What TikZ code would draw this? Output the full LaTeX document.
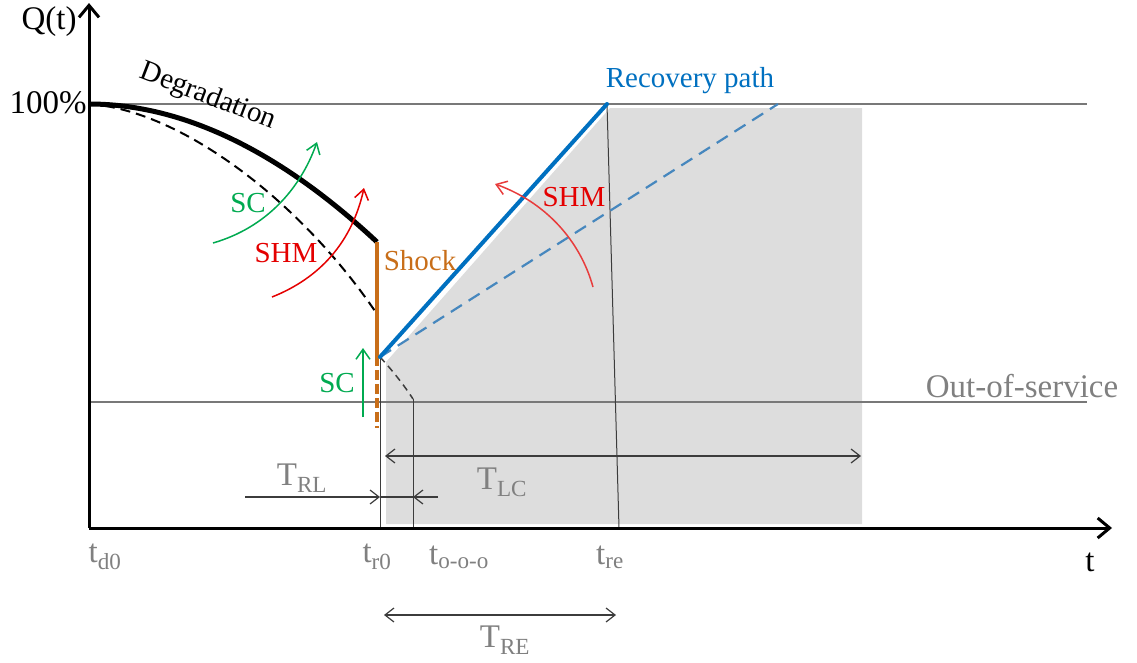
\documentclass[tikz,border=0pt]{standalone}
\usepackage{fontspec}
\setmainfont{Liberation Serif}
\usetikzlibrary{arrows.meta}
\definecolor{myblue}{RGB}{0,112,192}
\definecolor{dblue}{RGB}{70,135,190}
\definecolor{orng}{RGB}{200,110,25}
\definecolor{grn}{RGB}{0,170,80}
\definecolor{myred}{RGB}{228,0,0}
\definecolor{lred}{RGB}{232,60,60}
\definecolor{txtgray}{RGB}{128,128,128}
\definecolor{lngray}{RGB}{120,120,120}
\definecolor{dkgray}{RGB}{60,60,60}
\definecolor{areagray}{RGB}{221,221,221}
\begin{document}
\begin{tikzpicture}[x=1pt,y=-1pt,
  axis/.style={line width=3pt,-{Straight Barb[length=12pt,width=20pt,line width=3pt]}},
  thinarr/.style={line width=1.2pt,color=dkgray,-{Straight Barb[length=9pt,width=14pt,line width=1.2pt]}},
  thinline/.style={line width=1.2pt,color=dkgray},
  thinboth/.style={line width=1.2pt,color=dkgray,{Straight Barb[length=9pt,width=14pt,line width=1.2pt]}-{Straight Barb[length=9pt,width=14pt,line width=1.2pt]}},
  colarr/.style={line width=1.5pt,-{Straight Barb[length=10pt,width=14pt,line width=1.5pt]}},
  refline/.style={line width=1.3pt,color=lngray},
  vline/.style={line width=1pt,color=dkgray},
  big/.style={font=\fontsize{33}{38}\selectfont,inner sep=0pt},
  mid/.style={font=\fontsize{29}{34}\selectfont,inner sep=0pt},
]
\useasboundingbox (0,0) rectangle (1137,662);
% key coordinates
\coordinate (O) at (89,528);
\coordinate (Ytop) at (89,3);
\coordinate (Xend) at (1112,528);
\coordinate (P0) at (89,104);
\coordinate (Hend) at (1087,104);
\coordinate (OSa) at (89,402);
\coordinate (OSb) at (1087,402);
\coordinate (Sh) at (377,242);
\coordinate (Sd) at (377,314);
\coordinate (Sm) at (377,356);
\coordinate (R0) at (380,357);
\coordinate (Sbot) at (377,428);
\coordinate (Rend) at (607,104);
\coordinate (Rdash) at (778,104);
\coordinate (Ooo) at (413,399);
\coordinate (OooB) at (413,528);
\coordinate (R0B) at (380,528);
\coordinate (ReB) at (619,528);
% shaded area
\fill[areagray] (386,362) -- (610,108) -- (862,108) -- (862,524) -- (386,524) -- cycle;
% reference lines
\draw[refline] (P0) -- (Hend);
\draw[refline] (OSa) -- (OSb);
% vertical lines
\draw[vline] (R0) -- (R0B);
\draw[vline] (Ooo) -- (OooB);
\draw[vline] (Rend) -- (ReB);
% axes
\draw[axis] (O) -- (Ytop);
\draw[axis] (O) -- (Xend);
% degradation curves
\draw[line width=2pt,dash pattern=on 10pt off 6pt] (P0) .. controls (180,110) and (300,200) .. (Sd);
\draw[line width=1.5pt,dash pattern=on 7pt off 5pt,color=dkgray] (R0) .. controls (392,370) and (404,385) .. (Ooo);
\draw[line width=5pt] (P0) .. controls (200,104) and (300,170) .. (Sh);
% shock
\draw[line width=4pt,orng] (Sh) -- (Sm);
\draw[line width=4pt,orng,dash pattern=on 10pt off 4pt] (Sm) -- (Sbot);
% recovery
\draw[line width=2.2pt,dblue,dash pattern=on 13pt off 8pt] (R0) -- (Rdash);
\draw[line width=4pt,myblue,line cap=round] (R0) -- (Rend);
% SC / SHM arrows
\coordinate (g1a) at (213,243); \coordinate (g1b) at (317,142);
\draw[colarr,grn] (g1a) .. controls (265,228) and (300,190) .. (g1b);
\coordinate (r1a) at (272,297); \coordinate (r1b) at (364,188);
\draw[colarr,myred] (r1a) .. controls (320,278) and (352,242) .. (r1b);
\coordinate (g2a) at (363,417); \coordinate (g2b) at (363,348);
\draw[colarr,grn] (g2a) -- (g2b);
\coordinate (r2a) at (593,287); \coordinate (r2b) at (495,184);
\draw[colarr,lred] (r2a) .. controls (580,240) and (545,202) .. (r2b);
% time span arrows
\coordinate (rl0) at (245,497); \coordinate (rl1) at (380,497);
\coordinate (rl2) at (438,497); \coordinate (rl3) at (413,497);
\draw[thinarr] (rl0) -- (rl1);
\draw[thinline] (rl1) -- (rl2);
\draw[thinarr] (rl2) -- (rl3);
\coordinate (lc0) at (385,456); \coordinate (lc1) at (861,456);
\draw[thinboth] (lc0) -- (lc1);
\coordinate (re0) at (384,615); \coordinate (re1) at (616,615);
\draw[thinboth] (re0) -- (re1);
% labels
\node[big] (lq) at (49,22) {Q(t)};
\node[big] (l100) at (48,103) {100\%};
\node[mid,rotate=-21] (ldeg) at (208,97) {Degradation};
\node[mid,grn] (lsc1) at (248,203) {SC};
\node[mid,myred] (lshm1) at (286,253) {SHM};
\node[mid,orng] (lshock) at (420,261) {Shock};
\node[mid,myblue] (lrec) at (690,81) {Recovery path};
\node[mid,myred] (lshm2) at (574,197) {SHM};
\node[mid,grn] (lsc2) at (337,383) {SC};
\node[big,txtgray] (loos) at (1022,386) {Out-of-service};
\node[big,txtgray] (ltd) at (105,557) {t\textsubscript{d0}};
\node[big,txtgray] (ltr) at (377,557) {t\textsubscript{r0}};
\node[big,txtgray] (ltooo) at (459,557) {t\textsubscript{o-o-o}};
\node[big,txtgray] (ltre) at (610,557) {t\textsubscript{re}};
\node[big] (lt) at (1090,562) {t};
\node[big,txtgray] (lTRL) at (302,478) {T\textsubscript{RL}};
\node[big,txtgray] (lTLC) at (502,482) {T\textsubscript{LC}};
\node[big,txtgray] (lTRE) at (505,640) {T\textsubscript{RE}};
\end{tikzpicture}
\end{document}
